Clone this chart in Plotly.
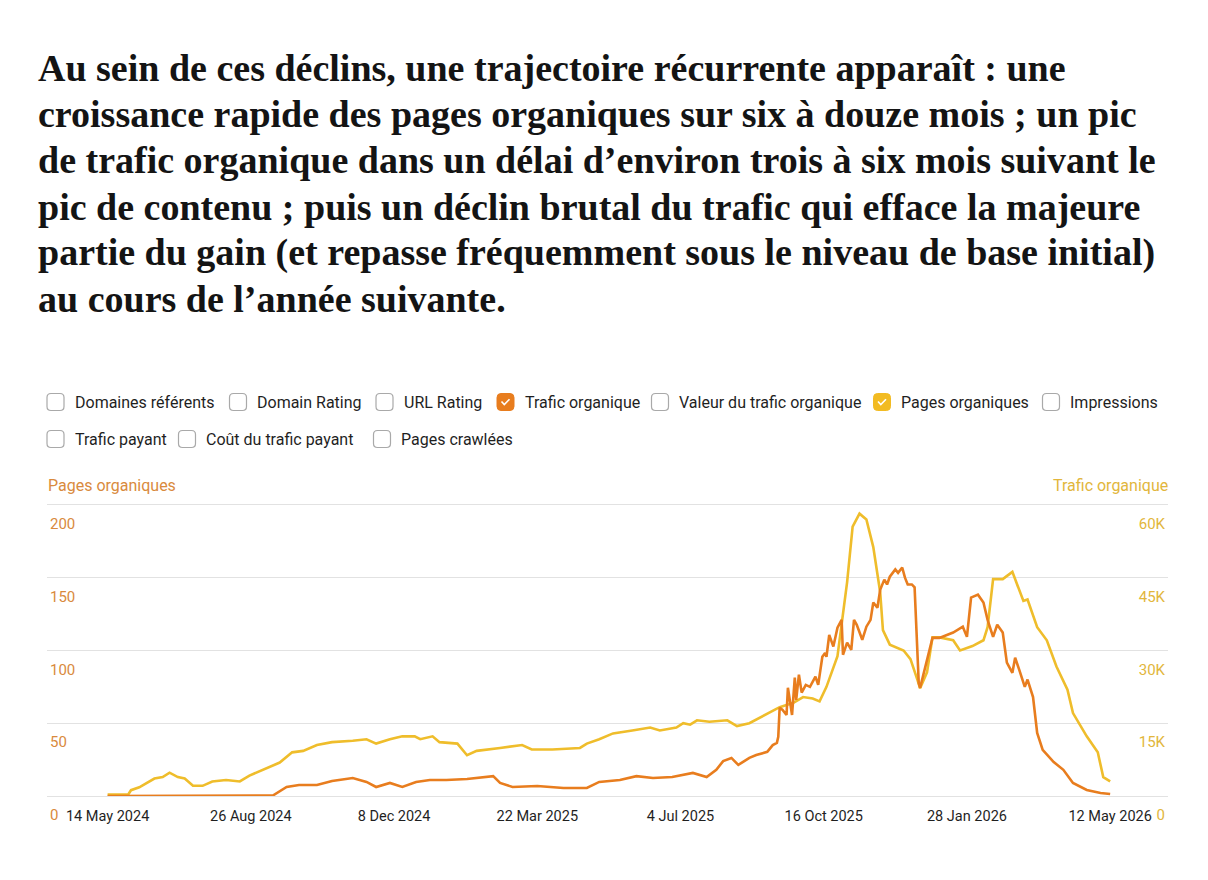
import plotly.graph_objects as go

# ---- data ----
title_lines = [
    "Au sein de ces déclins, une trajectoire récurrente apparaît : une",
    "croissance rapide des pages organiques sur six à douze mois ; un pic",
    "de trafic organique dans un délai d’environ trois à six mois suivant le",
    "pic de contenu ; puis un déclin brutal du trafic qui efface la majeure",
    "partie du gain (et repasse fréquemment sous le niveau de base initial)",
    "au cours de l’année suivante.",
]

legend_row1 = ["Domaines référents", "Domain Rating", "URL Rating", "Trafic organique",
               "Valeur du trafic organique", "Pages organiques", "Impressions"]
legend_row2 = ["Trafic payant", "Coût du trafic payant", "Pages crawlées"]
legend_checked = {"Trafic organique": "orange", "Pages organiques": "yellow"}

tick_dates = ["2024-05-14", "2024-08-26", "2024-12-08", "2025-03-22",
              "2025-07-04", "2025-10-16", "2026-01-28", "2026-05-12"]
pages_ticks = [0, 50, 100, 150, 200]
traffic_ticks = [0, 15000, 30000, 45000, 60000]
traffic_ticktext = ["0", "15K", "30K", "45K", "60K"]

pages_dates = [
    "2024-05-14", "2024-05-29", "2024-05-31", "2024-06-06", "2024-06-17", "2024-06-23",
    "2024-06-28", "2024-07-04", "2024-07-09", "2024-07-15", "2024-07-22", "2024-07-29",
    "2024-08-08", "2024-08-18", "2024-08-25", "2024-09-07", "2024-09-16", "2024-09-25",
    "2024-10-03", "2024-10-13", "2024-10-24", "2024-11-08", "2024-11-18", "2024-11-25",
    "2024-12-05", "2024-12-14", "2024-12-23", "2024-12-27", "2025-01-05", "2025-01-10",
    "2025-01-23", "2025-01-30", "2025-02-06", "2025-02-23", "2025-03-11", "2025-03-18",
    "2025-04-02", "2025-04-22", "2025-04-27", "2025-05-06", "2025-05-16", "2025-05-30",
    "2025-06-12", "2025-06-19", "2025-07-01", "2025-07-06", "2025-07-11", "2025-07-16",
    "2025-07-25", "2025-08-07", "2025-08-14", "2025-08-23", "2025-08-31", "2025-09-07",
    "2025-09-14", "2025-09-24", "2025-10-01", "2025-10-08", "2025-10-13", "2025-10-18",
    "2025-10-26", "2025-11-02", "2025-11-06", "2025-11-11", "2025-11-16", "2025-11-21",
    "2025-11-26", "2025-11-28", "2025-12-03", "2025-12-13", "2025-12-18", "2025-12-23",
    "2025-12-25", "2025-12-30", "2026-01-03", "2026-01-08", "2026-01-18", "2026-01-23",
    "2026-02-01", "2026-02-09", "2026-02-12", "2026-02-16", "2026-02-23", "2026-03-02",
    "2026-03-05", "2026-03-10", "2026-03-13", "2026-03-20", "2026-03-27", "2026-04-03",
    "2026-04-11", "2026-04-15", "2026-04-25", "2026-05-03", "2026-05-07", "2026-05-12",
]
pages_values = [
    1, 1, 4, 6, 12, 13,
    16, 13, 12, 7, 7, 10,
    11, 10, 14, 19, 23, 30,
    31, 35, 37, 38, 39, 36,
    39, 41, 41, 39, 41, 37,
    36, 28, 31, 33, 35, 32,
    32, 33, 36, 39, 43, 45,
    47, 45, 47, 50, 49, 52,
    51, 52, 48, 50, 54, 58,
    61, 64, 68, 67, 65, 75,
    96, 147, 185, 194, 190, 171,
    140, 114, 104, 100, 94, 80,
    74, 85, 109, 109, 107, 100,
    103, 107, 116, 149, 149, 154,
    147, 134, 135, 116, 107, 89,
    73, 57, 41, 30, 13, 10,
]

traffic_dates = [
    "2024-05-14", "2024-09-11", "2024-09-21", "2024-09-30", "2024-10-13", "2024-10-24",
    "2024-11-08", "2024-11-18", "2024-11-25", "2024-12-05", "2024-12-14", "2024-12-24",
    "2025-01-03", "2025-01-15", "2025-01-30", "2025-02-13", "2025-02-18", "2025-02-23",
    "2025-03-04", "2025-03-22", "2025-04-10", "2025-04-27", "2025-05-06", "2025-05-21",
    "2025-06-02", "2025-06-14", "2025-06-28", "2025-07-13", "2025-07-23", "2025-07-30",
    "2025-08-04", "2025-08-10", "2025-08-15", "2025-08-23", "2025-08-28", "2025-09-05",
    "2025-09-09", "2025-09-12", "2025-09-13", "2025-09-14", "2025-09-16", "2025-09-19",
    "2025-09-20", "2025-09-23", "2025-09-25", "2025-09-26", "2025-09-28", "2025-09-30",
    "2025-10-03", "2025-10-06", "2025-10-10", "2025-10-12", "2025-10-15", "2025-10-17",
    "2025-10-18", "2025-10-20", "2025-10-23", "2025-10-26", "2025-10-29", "2025-10-30",
    "2025-11-02", "2025-11-05", "2025-11-07", "2025-11-09", "2025-11-13", "2025-11-16",
    "2025-11-19", "2025-11-21", "2025-11-24", "2025-11-26", "2025-11-29", "2025-12-01",
    "2025-12-03", "2025-12-07", "2025-12-09", "2025-12-12", "2025-12-14", "2025-12-16",
    "2025-12-19", "2025-12-21", "2025-12-23", "2025-12-24", "2025-12-25",
    "2026-01-03", "2026-01-08", "2026-01-18", "2026-01-25", "2026-01-28", "2026-01-31",
    "2026-02-05", "2026-02-09", "2026-02-12", "2026-02-16", "2026-02-19", "2026-02-23",
    "2026-02-26", "2026-03-02", "2026-03-04", "2026-03-07", "2026-03-11", "2026-03-13",
    "2026-03-17", "2026-03-20", "2026-03-24", "2026-04-01", "2026-04-08", "2026-04-15",
    "2026-04-25", "2026-05-05", "2026-05-12",
]
traffic_values = [
    0, 100, 1860, 2270, 2270, 3100,
    3700, 2900, 1860, 2700, 1860, 2900,
    3300, 3300, 3500, 3900, 4100, 2700,
    1860, 2070, 1650, 1650, 2900, 3300,
    4100, 3700, 3900, 4750, 3900, 5400,
    7200, 7850, 6400, 7850, 8450, 9100,
    10500, 10950, 12200, 18200, 17800, 16700,
    22300, 16700, 24400, 19800, 25000, 21300,
    22900, 22500, 24600, 22900, 28700, 29500,
    28700, 33200, 30800, 34700, 36300, 29100,
    31600, 30100, 36300, 35300, 32200, 34900,
    36300, 39900, 38800, 42500, 44600, 43600,
    45200, 46700, 46000, 47100, 45000, 43600,
    43600, 43000, 30800, 23300, 22300,
    32600, 32600, 33700, 34900, 32800, 40900,
    41500, 39900, 36300, 32800, 35300, 33700,
    27500, 25400, 28500, 26000, 22500, 24000,
    20400, 13000, 9500, 7000, 5400, 2700,
    1240, 620, 400,
]

# ---- styling ----
ORANGE = "#e87d1e"
YELLOW = "#efbd2b"
ORANGE_TXT = "#d98a3d"
YELLOW_TXT = "#e2b63c"
GRID = "#e2e2e2"
TEXT = "#1f1f1f"
UI_FONT = "Roboto"

W, H = 1208, 880
L, R, T, B = 47, 1168, 502, 796  # plot area in pixels


def px(x):
    return (x - L) / (R - L)


def py(y):
    return (B - y) / (B - T)


fig = go.Figure()
fig.add_trace(go.Scatter(x=pages_dates, y=pages_values, mode="lines", name="Pages organiques",
                         line=dict(color=YELLOW, width=2.6), yaxis="y", hoverinfo="skip"))
fig.add_trace(go.Scatter(x=traffic_dates, y=traffic_values, mode="lines", name="Trafic organique",
                         line=dict(color=ORANGE, width=2.6), yaxis="y2", hoverinfo="skip"))

fig.update_layout(
    width=W, height=H,
    margin=dict(l=L, r=W - R, t=T, b=H - B),
    paper_bgcolor="white", plot_bgcolor="white",
    showlegend=False,
    font=dict(family=UI_FONT, color=TEXT),
    xaxis=dict(
        type="date",
        range=["2024-03-31", "2026-06-23"],
        tickvals=tick_dates,
        tickformat="%-d %b %Y",
        showgrid=False, zeroline=False, showline=False, ticks="",
        ticklabelstandoff=9,
        tickfont=dict(family=UI_FONT, size=14.5, color=TEXT),
        fixedrange=True,
    ),
    yaxis=dict(
        range=[0, 202],
        tickvals=pages_ticks,
        showgrid=True, gridcolor=GRID, gridwidth=1,
        zeroline=True, zerolinecolor=GRID, zerolinewidth=1,
        showline=False, ticks="",
        ticklabelposition="inside", ticklabelshift=19, ticklabeloverflow="allow",
        tickfont=dict(family=UI_FONT, size=15, color=ORANGE_TXT),
        fixedrange=True,
    ),
    yaxis2=dict(
        overlaying="y", side="right",
        range=[0, 60600],
        tickvals=traffic_ticks, ticktext=traffic_ticktext,
        showgrid=False, zeroline=False, showline=False, ticks="",
        ticklabelposition="inside", ticklabelshift=19, ticklabeloverflow="allow",
        tickfont=dict(family=UI_FONT, size=15, color=YELLOW_TXT),
        fixedrange=True,
    ),
)

annotations = []
shapes = []

# title paragraph
for i, line in enumerate(title_lines):
    annotations.append(dict(
        text=line, xref="paper", yref="paper", x=px(36), y=py(68 + i * 46.2),
        xanchor="left", yanchor="middle", showarrow=False,
        font=dict(family="Liberation Serif", size=38, color="#141414", weight="bold"),
    ))

# checkbox legend (drawn as a static header)
BOX = ("M -4.5 -8.5 L 4.5 -8.5 Q 8.5 -8.5 8.5 -4.5 L 8.5 4.5 Q 8.5 8.5 4.5 8.5 "
       "L -4.5 8.5 Q -8.5 8.5 -8.5 4.5 L -8.5 -4.5 Q -8.5 -8.5 -4.5 -8.5 Z")
CHECK = "M -4 0.5 L -1.2 -2.6 L 4 2.8"
row1_box_x = [55.5, 238, 384.5, 505.5, 660, 882, 1051]
row2_box_x = [55.5, 187, 382]
rows = [(legend_row1, row1_box_x, 402), (legend_row2, row2_box_x, 439)]
for labels, xs, yc in rows:
    for label, bx in zip(labels, xs):
        kind = legend_checked.get(label)
        if kind:
            col = ORANGE if kind == "orange" else "#f2bb22"
            shapes.append(dict(type="path", path=BOX, xref="paper", yref="paper",
                               xsizemode="pixel", ysizemode="pixel",
                               xanchor=px(bx), yanchor=py(yc),
                               fillcolor=col, line=dict(color=col, width=1)))
            shapes.append(dict(type="path", path=CHECK, xref="paper", yref="paper",
                               xsizemode="pixel", ysizemode="pixel",
                               xanchor=px(bx), yanchor=py(yc),
                               line=dict(color="white", width=1.6)))
        else:
            shapes.append(dict(type="path", path=BOX, xref="paper", yref="paper",
                               xsizemode="pixel", ysizemode="pixel",
                               xanchor=px(bx), yanchor=py(yc),
                               fillcolor="white", line=dict(color="#a9a9a9", width=1.2)))
        annotations.append(dict(
            text=label, xref="paper", yref="paper", x=px(bx + 17), y=py(yc),
            xanchor="left", yanchor="middle", showarrow=False,
            font=dict(family=UI_FONT, size=16, color=TEXT),
        ))

# axis captions
annotations.append(dict(text="Pages organiques", xref="paper", yref="paper",
                        x=px(46), y=py(485), xanchor="left", yanchor="middle",
                        showarrow=False, font=dict(family=UI_FONT, size=16, color=ORANGE_TXT)))
annotations.append(dict(text="Trafic organique", xref="paper", yref="paper",
                        x=px(1170), y=py(485), xanchor="right", yanchor="middle",
                        showarrow=False, font=dict(family=UI_FONT, size=16, color=YELLOW_TXT)))

fig.update_layout(annotations=annotations, shapes=shapes, hovermode=False)
fig.write_html("out.html", config={"displayModeBar": False},
               post_script="document.body.style.margin='0';")
